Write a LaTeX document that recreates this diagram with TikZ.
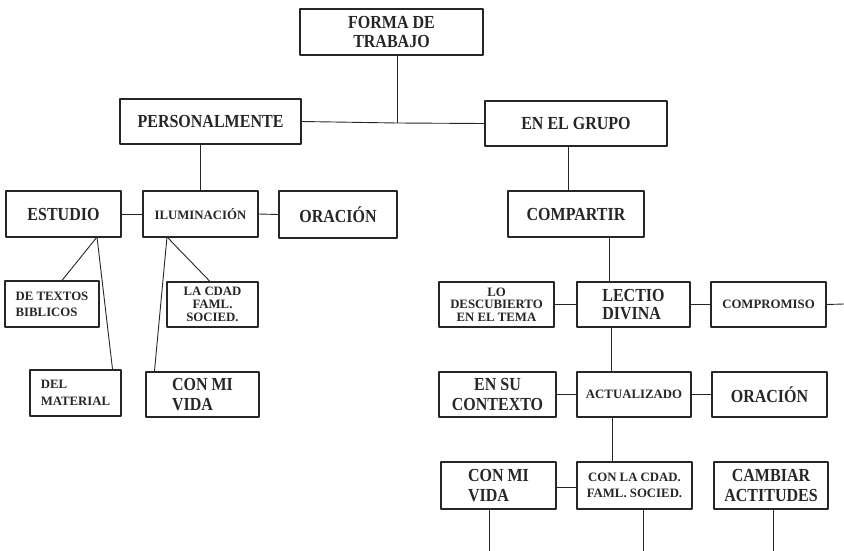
\documentclass[tikz,border=0pt]{standalone}
\usepackage{fontspec}
\setmainfont{Liberation Serif}
\newfontfamily\angosta[FakeStretch=0.87]{Liberation Serif}
\usetikzlibrary{positioning}

\tikzset{
  caja/.style={draw=black!85, line width=1.1pt, inner sep=2pt, text=black!85},
  grande/.style={font=\angosta\fontsize{18.4}{19.5}\selectfont\bfseries},
  chica/.style={font=\fontsize{12.8}{15}\selectfont\bfseries},
  linea/.style={draw=black!85, line width=0.9pt}
}

\begin{document}
\begin{tikzpicture}[x=1pt, y=-1pt, line join=round]

                \useasboundingbox (0,0) rectangle (844,551);

                % primer nivel
                \node[caja, grande, align=center, minimum width=183pt, minimum height=46pt] (forma) at (391.5,32) {FORMA DE\\TRABAJO};
                \node[caja, grande, minimum width=181pt, minimum height=45pt] (pers) at (210.5,121.5) {PERSONALMENTE};
                \node[caja, grande, minimum width=182pt, minimum height=45pt] (grupo) at (576,123.5) {EN EL GRUPO};

                % lado personal
                \node[caja, grande, minimum width=115pt, minimum height=46pt] (estudio) at (63.5,214) {ESTUDIO};
                \node[caja, chica, minimum width=115pt, minimum height=46pt] (ilum) at (200.5,214) {ILUMINACIÓN};
                \node[caja, grande, minimum width=118pt, minimum height=47pt] (oracion) at (338,214.5) {ORACIÓN};
                \node[caja, chica, align=left, font=\fontsize{12.8}{16}\selectfont\bfseries, minimum width=94pt, minimum height=46pt] (textos) at (52,304) {DE TEXTOS\\BIBLICOS};
                \node[caja, chica, align=center, font=\fontsize{12.8}{13}\selectfont\bfseries, minimum width=91pt, minimum height=45pt] (cdad) at (212.5,304.5) {LA CDAD\\FAML.\\SOCIED.};
                \node[caja, chica, align=left, font=\fontsize{12.8}{17}\selectfont\bfseries, minimum width=91pt, minimum height=46pt] (material) at (75.5,393) {DEL\\MATERIAL};
                \node[caja, grande, align=left, minimum width=113pt, minimum height=45pt] (vida) at (202.5,394.5) {CON MI\\VIDA};

                % lado del grupo
                \node[caja, grande, minimum width=136pt, minimum height=46pt] (compartir) at (576,214) {COMPARTIR};
                \node[caja, chica, align=center, font=\fontsize{12.8}{12.5}\selectfont\bfseries, minimum width=115pt, minimum height=45pt] (descub) at (496.5,304.5) {LO\\DESCUBIERTO\\EN EL TEMA};
                \node[caja, grande, align=left, font=\angosta\fontsize{18.4}{18}\selectfont\bfseries, minimum width=113pt, minimum height=45pt] (lectio) at (633.5,304.5) {LECTIO\\DIVINA};
                \node[caja, chica, minimum width=115pt, minimum height=45pt] (compro) at (768.5,304.5) {COMPROMISO};
                \node[caja, grande, align=center, minimum width=117pt, minimum height=45pt] (contexto) at (497.5,394.5) {EN SU\\CONTEXTO};
                \node[caja, chica, minimum width=114pt, minimum height=45pt] (actual) at (634,394.5) {ACTUALIZADO};
                \node[caja, grande, minimum width=115pt, minimum height=45pt] (oracion2) at (769.5,394.5) {ORACIÓN};
                \node[caja, grande, align=left, minimum width=115pt, minimum height=47pt] (vida2) at (498.5,485.5) {CON MI\\VIDA};
                \node[caja, chica, align=center, font=\fontsize{12.8}{16}\selectfont\bfseries, minimum width=115pt, minimum height=47pt] (cdad2) at (634.5,485.5) {CON LA CDAD.\\FAML. SOCIED.};
                \node[caja, grande, align=center, minimum width=114pt, minimum height=47pt] (cambiar) at (771,485.5) {CAMBIAR\\ACTITUDES};

                % puntos de union
                \coordinate (j1) at (397,123);
                \coordinate (e1) at (97,237);
                \coordinate (i1) at (167,237);
                \coordinate (g1) at (568,146);
                \coordinate (c1) at (609,237);
                \coordinate (l1) at (611,327);
                \coordinate (a1) at (612,417);
                \coordinate (fin) at (844,304);

                % conectores
                \draw[linea] (forma.south -| j1) -- (j1);
                \draw[linea] (pers.east) -- (j1) -- (grupo.west);
                \draw[linea] (pers.south -| ilum.north) -- (ilum.north);
                \draw[linea] (g1) -- (g1 |- compartir.north);
                \draw[linea] (estudio.east) -- (ilum.west);
                \draw[linea] (ilum.east) -- (oracion.west);
                \draw[linea] (e1) -- ([xshift=10pt]textos.north);
                \draw[linea] (e1) -- ([xshift=-9pt]material.north east);
                \draw[linea] (i1) -- ([xshift=-2.5pt]cdad.north);
                \draw[linea] (i1) -- ([xshift=9pt]vida.north west);
                \draw[linea] (c1) -- (c1 |- lectio.north);
                \draw[linea] (descub.east) -- (lectio.west);
                \draw[linea] (lectio.east) -- (compro.west);
                \draw[linea] (compro.east) -- (fin);
                \draw[linea] (l1) -- (l1 |- actual.north);
                \draw[linea] (contexto.east) -- (actual.west);
                \draw[linea] (actual.east) -- (oracion2.west);
                \draw[linea] (a1) -- (a1 |- cdad2.north);
                \draw[linea] ([yshift=-2pt]vida2.east) -- ([yshift=-2pt]cdad2.west);
                \draw[linea] ([xshift=-9.5pt]vida2.south) -- ++(0,42);
                \draw[linea] ([xshift=8.5pt]cdad2.south) -- ++(0,42);
                \draw[linea] ([xshift=2pt]cambiar.south) -- ++(0,42);

\end{tikzpicture}
\end{document}
